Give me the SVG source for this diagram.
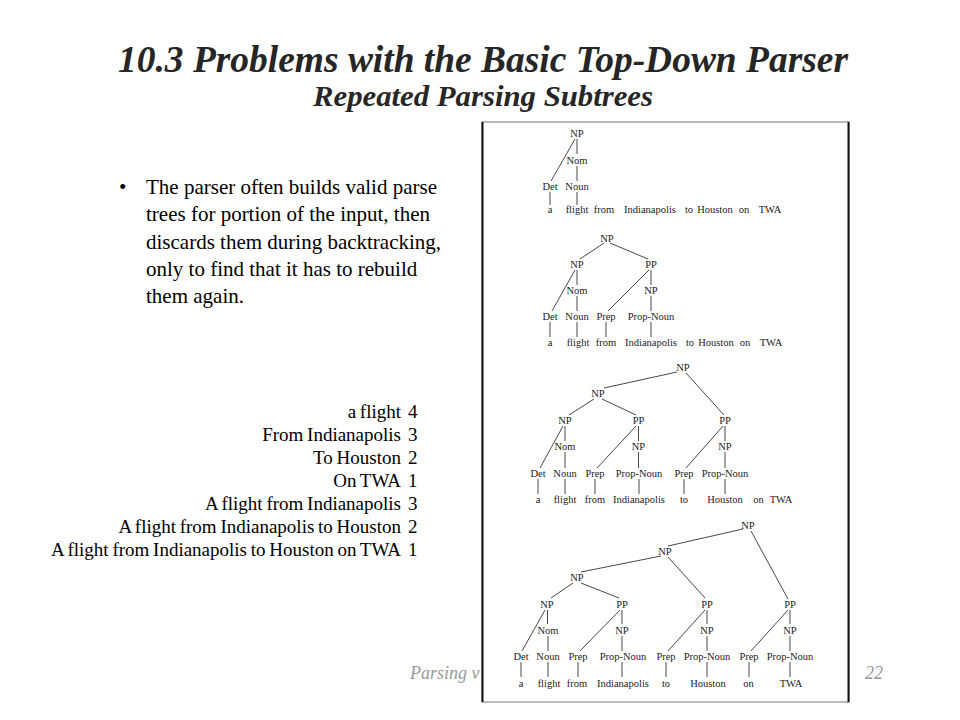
<svg xmlns="http://www.w3.org/2000/svg" width="960" height="720" viewBox="0 0 960 720">
<style>
.title{font-family:"Liberation Serif","Times New Roman",serif;font-weight:bold;font-style:italic;fill:#262626;text-anchor:middle}
.body{font-family:"Liberation Serif","Times New Roman",serif;font-size:21px;fill:#000}
.tab{font-family:"Liberation Serif","Times New Roman",serif;font-size:19px;fill:#000;word-spacing:-1px}
.tabr{text-anchor:end}
.foot{font-family:"Liberation Serif","Times New Roman",serif;font-style:italic;font-size:18px;fill:#999}
.t{font-family:"Liberation Serif","Times New Roman",serif;font-size:10.5px;fill:#222;text-anchor:middle}
.e{stroke:#333;stroke-width:0.9;fill:none}
</style>
<rect width="960" height="720" fill="#fff"/>
<g id="title">
<text class="title" x="483" y="72" font-size="38" textLength="730" lengthAdjust="spacingAndGlyphs">10.3 Problems with the Basic Top-Down Parser</text>
<text class="title" x="483" y="106" font-size="29" textLength="340" lengthAdjust="spacingAndGlyphs">Repeated Parsing Subtrees</text>
</g>
<g id="bullet">
<text class="body" x="119" y="194">•</text>
<text class="body" x="146" y="194">The parser often builds valid parse</text>
<text class="body" x="146" y="221.3">trees for portion of the input, then</text>
<text class="body" x="146" y="248.6">discards them during backtracking,</text>
<text class="body" x="146" y="276">only to find that it has to rebuild</text>
<text class="body" x="146" y="303.3">them again.</text>
</g>
<g id="counts">
<text class="tab tabr" x="401" y="418">a flight</text><text class="tab" x="408" y="418">4</text>
<text class="tab tabr" x="401" y="441">From Indianapolis</text><text class="tab" x="408" y="441">3</text>
<text class="tab tabr" x="401" y="464">To Houston</text><text class="tab" x="408" y="464">2</text>
<text class="tab tabr" x="401" y="487">On TWA</text><text class="tab" x="408" y="487">1</text>
<text class="tab tabr" x="401" y="510">A flight from Indianapolis</text><text class="tab" x="408" y="510">3</text>
<text class="tab tabr" x="401" y="533">A flight from Indianapolis to Houston</text><text class="tab" x="408" y="533">2</text>
<text class="tab tabr" x="401" y="556">A flight from Indianapolis to Houston on TWA</text><text class="tab" x="408" y="556">1</text>
</g>
<g id="footer">
<text class="foot" x="410" y="679">Parsing v</text>
<text class="foot" x="865" y="679">22</text>
</g>
<g id="figure">
<rect x="482" y="122" width="367" height="580" fill="#fff" stroke="#777" stroke-width="1"/>
<line x1="482.5" y1="122" x2="482.5" y2="702" stroke="#111" stroke-width="2"/>
<line x1="848.5" y1="122" x2="848.5" y2="702" stroke="#111" stroke-width="2"/>
</g>
<g id="connectors">
<path class="e" d="M577 139V154M575 139L551 181M577 166V181M550 192V205M577 192V205"/>
<path class="e" d="M604 243L580 259M610 243L648 259M577 270V285M575 270L552 311M577 296V311M651 270V285M649 270L608 311M651 296V311M550 322V337M577 322V337M606 322V337M651 322V337"/>
<path class="e" d="M677 372L604 388M686 373L724 415M594 399L569 415M602 399L636 415M565 426V441M563 426L540 468M565 452V468M638.5 426V441M636 426L597 468M638.5 452V468M725 426V441M723 426L686 468M725 452V468M538 479V494M565 479V494M595 479V494M639 479V494M684 479V494M725 479V494"/>
<path class="e" d="M743 529L668 546M751 531L788 599M661 556L581 572M668 557L705 598M573 583L551 598M581 583L619 598M547.5 610V624M545 610L522 651M548 636V651M622 610V624M620 610L580 651M622 636V651M707 610V624M705 610L668 651M707 636V651M790 610V624M788 610L751 651M790 636V651M521 662V677M548 662V677M578 662V677M622 662V677M666 662V677M707 662V677M749 662V677M790 662V677"/>
</g>
<g id="tree1">
<g id="t1-np"><text class="t" x="577" y="136.5">NP</text></g>
<g id="t1-nom"><text class="t" x="577" y="164">Nom</text></g>
<g id="t1-det"><text class="t" x="550" y="190">Det</text></g>
<g id="t1-noun"><text class="t" x="577" y="190">Noun</text></g>
<g id="t1-words">
<text class="t" x="550" y="212.5">a</text><text class="t" x="577" y="212.5">flight</text><text class="t" x="604" y="212.5">from</text><text class="t" x="650" y="212.5">Indianapolis</text><text class="t" x="689" y="212.5">to</text><text class="t" x="715" y="212.5">Houston</text><text class="t" x="744" y="212.5">on</text><text class="t" x="770" y="212.5">TWA</text>
</g>
</g>
<g id="tree2">
<g id="t2-np"><text class="t" x="607" y="241.8">NP</text></g>
<g id="t2-np1"><text class="t" x="577" y="267.8">NP</text></g>
<g id="t2-pp1"><text class="t" x="651" y="267.8">PP</text></g>
<g id="t2-nom"><text class="t" x="577" y="294">Nom</text></g>
<g id="t2-np2"><text class="t" x="651" y="294">NP</text></g>
<g id="t2-det"><text class="t" x="550" y="319.5">Det</text></g>
<g id="t2-noun"><text class="t" x="577" y="319.5">Noun</text></g>
<g id="t2-prep"><text class="t" x="606" y="319.5">Prep</text></g>
<g id="t2-propn"><text class="t" x="651" y="319.5">Prop-Noun</text></g>
<g id="t2-words">
<text class="t" x="550" y="345.5">a</text><text class="t" x="578" y="345.5">flight</text><text class="t" x="606" y="345.5">from</text><text class="t" x="651" y="345.5">Indianapolis</text><text class="t" x="690" y="345.5">to</text><text class="t" x="716" y="345.5">Houston</text><text class="t" x="745" y="345.5">on</text><text class="t" x="771" y="345.5">TWA</text>
</g>
</g>
<g id="tree3">
<g id="t3-np"><text class="t" x="683" y="371">NP</text></g>
<g id="t3-npm"><text class="t" x="598" y="397">NP</text></g>
<g id="t3-np1"><text class="t" x="565" y="423.5">NP</text></g>
<g id="t3-pp1"><text class="t" x="638.5" y="423.5">PP</text></g>
<g id="t3-pp2"><text class="t" x="725" y="423.5">PP</text></g>
<g id="t3-nom"><text class="t" x="565" y="450">Nom</text></g>
<g id="t3-np2"><text class="t" x="638.5" y="450">NP</text></g>
<g id="t3-np3"><text class="t" x="725" y="450">NP</text></g>
<g id="t3-det"><text class="t" x="538" y="477">Det</text></g>
<g id="t3-noun"><text class="t" x="565" y="477">Noun</text></g>
<g id="t3-prep1"><text class="t" x="595" y="477">Prep</text></g>
<g id="t3-propn1"><text class="t" x="639" y="477">Prop-Noun</text></g>
<g id="t3-prep2"><text class="t" x="684" y="477">Prep</text></g>
<g id="t3-propn2"><text class="t" x="725" y="477">Prop-Noun</text></g>
<g id="t3-words">
<text class="t" x="538" y="503">a</text><text class="t" x="565" y="503">flight</text><text class="t" x="595" y="503">from</text><text class="t" x="639" y="503">Indianapolis</text><text class="t" x="684" y="503">to</text><text class="t" x="725" y="503">Houston</text><text class="t" x="758.5" y="503">on</text><text class="t" x="781" y="503">TWA</text>
</g>
</g>
<g id="tree4">
<g id="t4-np"><text class="t" x="748" y="528.5">NP</text></g>
<g id="t4-np2"><text class="t" x="665" y="554.5">NP</text></g>
<g id="t4-np3"><text class="t" x="577" y="581">NP</text></g>
<g id="t4-np4"><text class="t" x="547" y="607.5">NP</text></g>
<g id="t4-pp1"><text class="t" x="622" y="607.5">PP</text></g>
<g id="t4-pp2"><text class="t" x="707" y="607.5">PP</text></g>
<g id="t4-pp3"><text class="t" x="790" y="607.5">PP</text></g>
<g id="t4-nom"><text class="t" x="548" y="633.5">Nom</text></g>
<g id="t4-npa"><text class="t" x="622" y="633.5">NP</text></g>
<g id="t4-npb"><text class="t" x="707" y="633.5">NP</text></g>
<g id="t4-npc"><text class="t" x="790" y="633.5">NP</text></g>
<g id="t4-det"><text class="t" x="521" y="660">Det</text></g>
<g id="t4-noun"><text class="t" x="548" y="660">Noun</text></g>
<g id="t4-prep1"><text class="t" x="578" y="660">Prep</text></g>
<g id="t4-propn1"><text class="t" x="623" y="660">Prop-Noun</text></g>
<g id="t4-prep2"><text class="t" x="666" y="660">Prep</text></g>
<g id="t4-propn2"><text class="t" x="707" y="660">Prop-Noun</text></g>
<g id="t4-prep3"><text class="t" x="749" y="660">Prep</text></g>
<g id="t4-propn3"><text class="t" x="790" y="660">Prop-Noun</text></g>
<g id="t4-words">
<text class="t" x="521" y="686.5">a</text><text class="t" x="549" y="686.5">flight</text><text class="t" x="577" y="686.5">from</text><text class="t" x="623" y="686.5">Indianapolis</text><text class="t" x="666" y="686.5">to</text><text class="t" x="708" y="686.5">Houston</text><text class="t" x="748.5" y="686.5">on</text><text class="t" x="791" y="686.5">TWA</text>
</g>
</g>
</svg>
